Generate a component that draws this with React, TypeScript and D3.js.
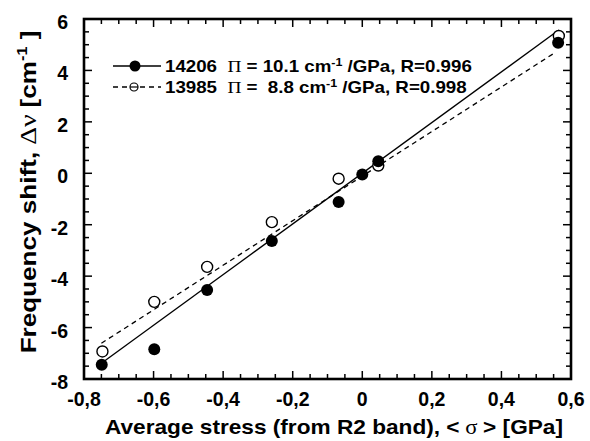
import React from "react";
import * as d3 from "d3";

const xFilled = [-0.749, -0.598, -0.446, -0.26, -0.068, 0.0, 0.046, 0.563];
const yFilled = [-7.45, -6.84, -4.54, -2.63, -1.12, -0.05, 0.47, 5.08];
const xOpen = [-0.747, -0.598, -0.446, -0.26, -0.068, 0.046, 0.565];
const yOpen = [-6.93, -5.0, -3.64, -1.9, -0.21, 0.3, 5.34];
const fitFilled: [number, number][] = [[-0.75, -7.39], [0.565, 5.57]];
const fitOpen: [number, number][] = [[-0.75, -6.61], [0.555, 4.7]];
const xTicks = [-0.8, -0.6, -0.4, -0.2, 0, 0.2, 0.4, 0.6];
const xTickLabels = ["-0,8", "-0,6", "-0,4", "-0,2", "0", "0,2", "0,4", "0,6"];
const yTicks = [-8, -6, -4, -2, 0, 2, 4, 6];
const yTickLabels = ["-8", "-6", "-4", "-2", "0", "2", "4", "6"];
const legendNames = ["14206", "13985"];
const legendPi = ["10.1", " 8.8"];
const legendR = ["0.996", "0.998"];

const W = 590, H = 441;
const L = 84, R = 571, T = 19, B = 379;
const SANS = "'Liberation Sans', Arial, sans-serif";
const SERIF = "'Liberation Serif', 'Times New Roman', serif";

export default function App() {
  const x = d3.scaleLinear().domain([-0.8, 0.6]).range([L, R]);
  const y = d3.scaleLinear().domain([-8, 6]).range([B, T]);
  const line = d3.line<[number, number]>().x(d => x(d[0])).y(d => y(d[1]));
  const xMinor = d3.range(-0.8, 0.6001, 0.05).map(v => +v.toFixed(3));
  const yMinor = d3.range(-8, 6.001, 0.5);
  const isMajorX = (v: number) => xTicks.some(t => Math.abs(t - v) < 1e-6);
  const isMajorY = (v: number) => yTicks.some(t => Math.abs(t - v) < 1e-6);
  const legendLineY = [66, 87];

  return (
    <svg width={W} height={H} style={{ position: "absolute", left: 0, top: 0, background: "#fff" }}>
      <rect x={0} y={0} width={W} height={H} fill="#fff" />
      {/* ticks */}
      {xMinor.map((v, i) => {
        const len = isMajorX(v) ? 8 : 5;
        return (
          <g key={"xt" + i} stroke="#000" strokeWidth={1.5}>
            <line x1={x(v)} x2={x(v)} y1={B} y2={B - len} />
            <line x1={x(v)} x2={x(v)} y1={T} y2={T + len} />
          </g>
        );
      })}
      {yMinor.map((v, i) => {
        const len = isMajorY(v) ? 8 : 5;
        return (
          <g key={"yt" + i} stroke="#000" strokeWidth={1.5}>
            <line x1={L} x2={L + len} y1={y(v)} y2={y(v)} />
            <line x1={R} x2={R - len} y1={y(v)} y2={y(v)} />
          </g>
        );
      })}
      <rect x={L} y={T} width={R - L} height={B - T} fill="none" stroke="#000" strokeWidth={2.6} />
      {/* tick labels */}
      {xTicks.map((v, i) => (
        <text key={"xl" + i} x={x(v)} y={406} textAnchor="middle" fontFamily={SANS} fontWeight="bold" fontSize={19.5}>
          {xTickLabels[i]}
        </text>
      ))}
      {yTicks.map((v, i) => (
        <text key={"yl" + i} x={68} y={y(v) + 10} textAnchor="end" fontFamily={SANS} fontWeight="bold" fontSize={19.5}>
          {yTickLabels[i]}
        </text>
      ))}
      {/* axis titles */}
      <text x={334} y={434} textAnchor="middle" fontFamily={SANS} fontWeight="bold" fontSize={21}
        textLength={458} lengthAdjust="spacingAndGlyphs">
        Average stress (from R2 band), &lt;
        <tspan fontFamily={SERIF} fontWeight="normal"> σ </tspan>
        &gt; [GPa]
      </text>
      <g transform={`translate(36,${192}) rotate(-90) scale(1.16,1)`}>
        <text x={0} y={0} textAnchor="middle" fontFamily={SANS} fontWeight="bold" fontSize={22.5}>
          Frequency shift,
          <tspan fontFamily={SERIF} fontWeight="normal" fontSize={24}>{"  Δν "}</tspan>
          [cm
          <tspan dy={-9} fontSize={14}>-1</tspan>
          <tspan dy={9}> ]</tspan>
        </text>
      </g>
      {/* fit lines */}
      <path d={line(fitFilled) || ""} fill="none" stroke="#000" strokeWidth={1.3} />
      <path d={line(fitOpen) || ""} fill="none" stroke="#000" strokeWidth={1.3} strokeDasharray="5,4" />
      {/* points */}
      {xOpen.map((v, i) => (
        <circle key={"o" + i} cx={x(v)} cy={y(yOpen[i])} r={5.5} fill="#fff" stroke="#000" strokeWidth={1.4} />
      ))}
      {xFilled.map((v, i) => (
        <circle key={"f" + i} cx={x(v)} cy={y(yFilled[i])} r={6} fill="#000" />
      ))}
      {/* legend */}
      {legendNames.map((n, i) => (
        <g key={"lg" + i}>
          <line x1={113} x2={161} y1={legendLineY[i]} y2={legendLineY[i]} stroke="#000" strokeWidth={1.3}
            strokeDasharray={i === 1 ? "5,4" : undefined} />
          {i === 0 ? (
            <circle cx={135} cy={legendLineY[i]} r={5.5} fill="#000" />
          ) : (
            <circle cx={134} cy={legendLineY[i]} r={4} fill="#fff" stroke="#000" strokeWidth={1.2} />
          )}
          {i === 1 && <line x1={130} x2={138} y1={legendLineY[i]} y2={legendLineY[i]} stroke="#000" strokeWidth={1.2} />}
          <g transform={`translate(165,${legendLineY[i] + 6}) scale(1.135,1)`}>
            <text x={0} y={0} fontFamily={SANS} fontWeight="bold" fontSize={16.5} xmlSpace="preserve">
              {n + "  "}
              <tspan fontFamily={SERIF} fontWeight="normal" fontSize={17}>Π</tspan>
              {" = " + legendPi[i] + " cm"}
              <tspan dy={-6} fontSize={11}>-1</tspan>
              <tspan dy={6}>{" /GPa, R=" + legendR[i]}</tspan>
            </text>
          </g>
        </g>
      ))}
    </svg>
  );
}
